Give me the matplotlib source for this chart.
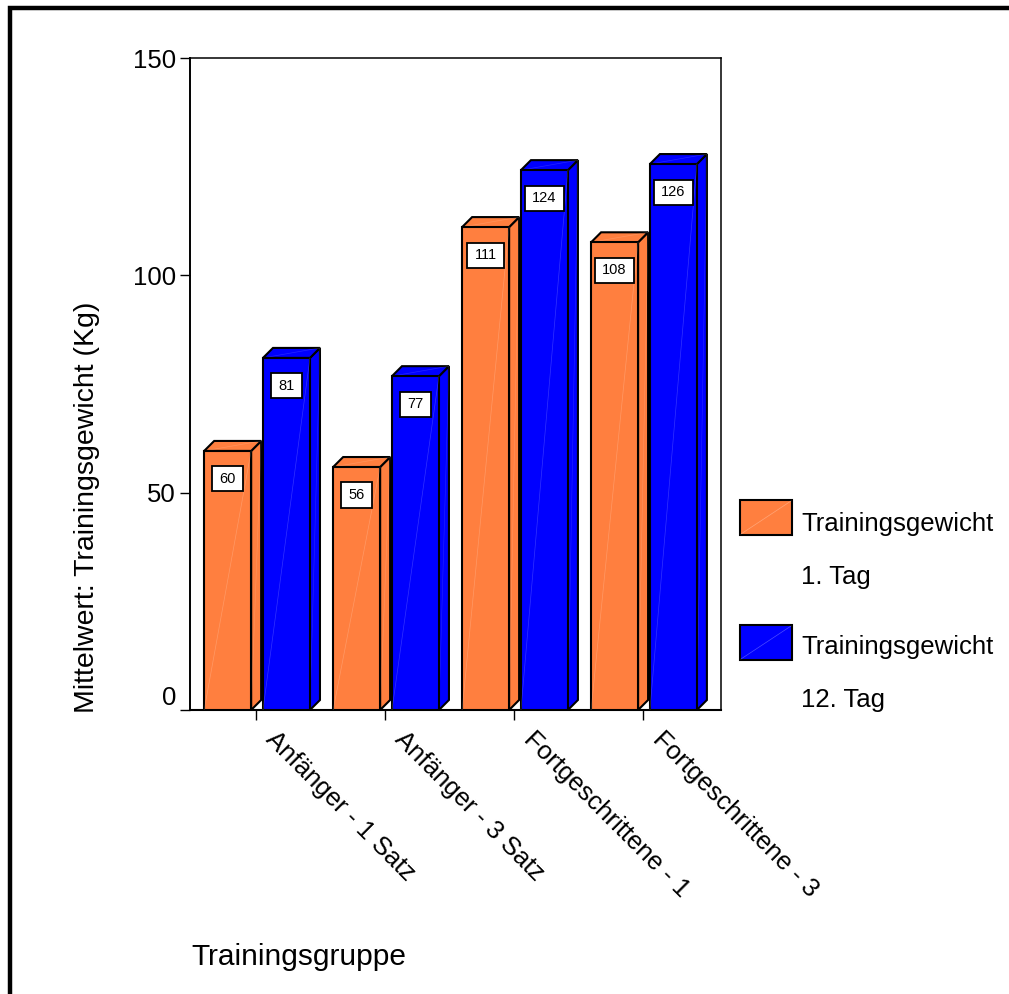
#!/usr/bin/env python3
import matplotlib
matplotlib.use('Agg')
import matplotlib.pyplot as plt
from matplotlib.patches import Polygon, Rectangle
from matplotlib.lines import Line2D
from matplotlib.path import Path

plt.rcParams['font.family'] = ['Liberation Sans', 'DejaVu Sans']

groups = ['Anfänger - 1 Satz', 'Anfänger - 3 Satz', 'Fortgeschrittene - 1', 'Fortgeschrittene - 3']
tag1 = [59.6, 55.9, 111.1, 107.6]
tag12 = [81.0, 76.8, 124.2, 125.6]
series_names = ['Trainingsgewicht\n\n1. Tag', 'Trainingsgewicht\n\n12. Tag']
orange = '#ff7f3f'
blue = '#0000ff'

W, H = 1009, 994
fig = plt.figure(figsize=(W / 100, H / 100), dpi=100)
ax = fig.add_axes([190 / W, 1 - 710 / H, 531 / W, 652 / H])
ax.set_xlim(-0.512, 3.605)
ax.set_ylim(0, 150)

# depth of the fake 3D bars, in data units
dx = 10 / 129
dy = 10 / (652 / 150)
bar_w = 47 / 129


def label_box(x0, y0, w, h, fontsize):
    # wider than tall padding, the square boxstyle only has one pad
    px, py = 0.5 * fontsize, 0.38 * fontsize
    return Path([(x0 - px, y0 - py), (x0 + w + px, y0 - py), (x0 + w + px, y0 + h + py),
                 (x0 - px, y0 + h + py), (x0 - px, y0 - py)], closed=True)


def bar3d(x, v, color):
    left, right = x - bar_w / 2, x + bar_w / 2
    ax.add_patch(Polygon([(right, 0), (right + dx, dy), (right + dx, v + dy), (right, v)],
                         fc=color, ec='black', lw=1.5, zorder=2))
    ax.add_patch(Polygon([(left, v), (left + dx, v + dy), (right + dx, v + dy), (right, v)],
                         fc=color, ec='black', lw=1.5, zorder=2))
    ax.bar(x, v, bar_w, color=color, edgecolor='black', linewidth=1.5, zorder=3)
    # faint gradient seams
    ax.plot([left, right], [0, v], color='white', lw=0.5, alpha=0.2, zorder=4)
    ax.plot([right, right + dx], [0, v + dy], color='white', lw=0.4, alpha=0.15, zorder=2.5)
    ax.plot([left, right + dx], [v, v + dy], color='white', lw=0.5, alpha=0.15, zorder=2.5)
    ax.annotate(f'{round(v)}', (x, v), xytext=(0, -28 * 0.72), textcoords='offset points',
                ha='center', va='center', fontsize=10.5, zorder=5,
                bbox=dict(boxstyle=label_box, fc='white', ec='black', lw=1.3))


for i in range(len(groups)):
    bar3d(i - 0.22, tag1[i], orange)
    bar3d(i + 0.236, tag12[i], blue)

for s in ax.spines.values():
    s.set_linewidth(1.1)
ax.spines['left'].set_linewidth(1.4)
ax.spines['bottom'].set_linewidth(1.5)
ax.set_yticks([0, 50, 100, 150])
ax.tick_params(axis='y', labelsize=18.5, length=7, width=1, pad=3)
ax.get_yticklabels()[0].set_va('bottom')
ax.set_xticks(range(len(groups)))
ax.set_xticklabels([])
ax.tick_params(axis='x', length=7, width=1)

for i, g in enumerate(groups):
    ax.annotate(g, (i, 0), xytext=(16, -12), textcoords='offset points', rotation=-45,
                rotation_mode='anchor', ha='left', va='top', fontsize=18.5)

fig.text(87 / W, 1 - 507 / H, 'Mittelwert: Trainingsgewicht (Kg)', rotation=90,
         ha='center', va='center', fontsize=20.5)
fig.text(191 / W, 1 - 957 / H, 'Trainingsgruppe', ha='left', va='center', fontsize=21.5)

# legend
for y0, ty, c, name in zip([500, 625], [512, 635], [orange, blue], series_names):
    fig.add_artist(Rectangle((740 / W, 1 - (y0 + 35) / H), 52 / W, 35 / H, fc=c, ec='black',
                             lw=1.5, transform=fig.transFigure))
    fig.add_artist(Line2D([741 / W, 791 / W], [1 - (y0 + 34) / H, 1 - (y0 + 1) / H],
                          color='white', lw=0.5, alpha=0.3))
    fig.text(801 / W, 1 - ty / H, name, ha='left', va='top', fontsize=18.5, linespacing=1.12)

# outer frame, top and left only
fig.add_artist(Line2D([10 / W, 10 / W, 1], [0, 1 - 8 / H, 1 - 8 / H], color='black', lw=3.2,
                      solid_joinstyle='miter'))

plt.savefig('out.png', dpi=100)
